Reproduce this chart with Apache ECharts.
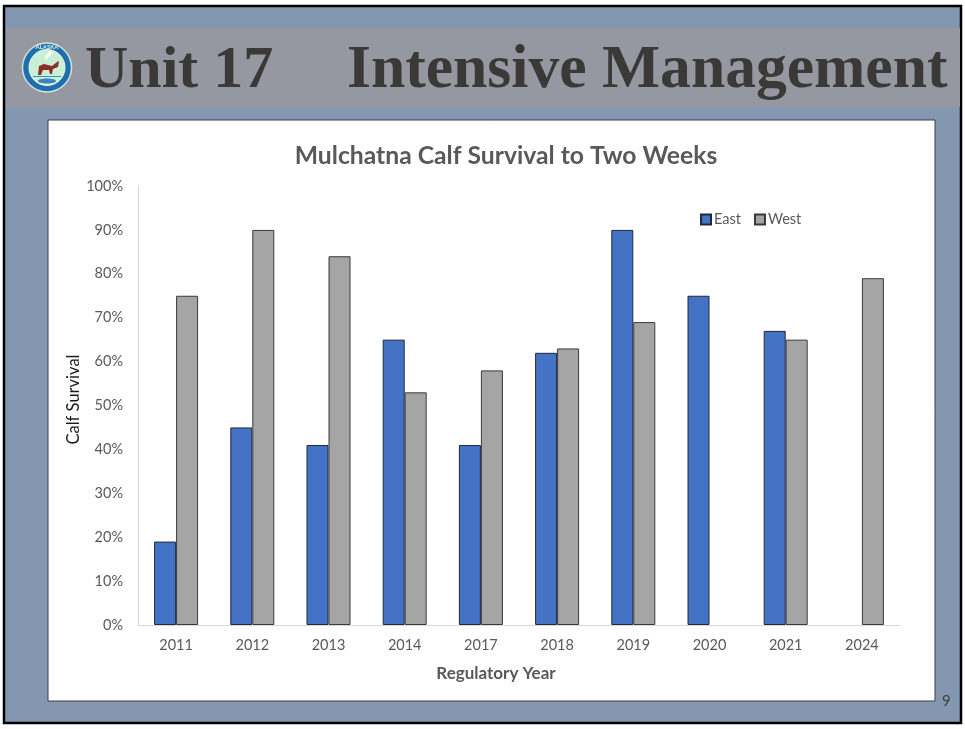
<!DOCTYPE html>
<html>
<head>
<meta charset="utf-8">
<style>html,body{margin:0;padding:0;background:#fff}#c{width:965px;height:729px}</style>
<script src="https://cdn.jsdelivr.net/npm/echarts@6/dist/echarts.min.js"></script>
</head>
<body>
<div id="c"></div>
<script>
const categories = ['2011','2012','2013','2014','2017','2018','2019','2020','2021','2024'];
const east = [19,45,41,65,41,62,90,75,67,null];
const west = [75,90,84,53,58,63,69,null,65,79];
const chartTitle = 'Mulchatna Calf Survival to Two Weeks';
const slideLeft = 'Unit 17';
const slideRight = 'Intensive Management';

const font = 'Lato, "Open Sans", sans-serif';
const ink = '#595959';
const chart = echarts.init(document.getElementById('c'), null, {renderer:'canvas'});
chart.setOption({
  animation:false,
  backgroundColor:'#fff',
  title:{text:chartTitle,left:501,top:139,textAlign:'center',
    textStyle:{fontFamily:font,fontSize:24.7,fontWeight:'bold',color:ink}},
  legend:{left:695,top:207,itemWidth:10,itemHeight:10,itemGap:13,icon:'rect',
    textStyle:{fontFamily:font,fontSize:14.5,color:ink,padding:[0,0,0,-2]},
    data:['East','West']},
  grid:{left:138,top:186,width:762,height:439,containLabel:false},
  xAxis:{type:'category',data:categories,
    name:'Regulatory Year',nameLocation:'middle',nameGap:40,
    nameTextStyle:{fontFamily:font,fontSize:17,fontWeight:'bold',color:ink,padding:[0,46,0,0]},
    axisLine:{lineStyle:{color:'#d9d9d9',width:1}},axisTick:{show:false},
    axisLabel:{fontFamily:font,fontSize:14.5,color:ink,margin:13}},
  yAxis:{type:'value',min:0,max:100,interval:10,
    name:'Calf Survival',nameLocation:'middle',nameGap:56,nameMoveOverlap:false,
    nameTextStyle:{fontFamily:font,fontSize:16.5,fontWeight:'normal',color:'#1a1a1a',padding:[0,0,0,12]},
    axisLine:{show:true,lineStyle:{color:'#d9d9d9',width:1}},axisTick:{show:false},
    splitLine:{show:false},
    axisLabel:{fontFamily:font,fontSize:14.5,color:ink,margin:15,formatter:'{value}%'}},
  series:[
    {name:'East',type:'bar',data:east,barWidth:22,barGap:'0%',
     itemStyle:{color:'#4472c4',borderColor:'#1f2a3a',borderWidth:1}},
    {name:'West',type:'bar',data:west,barWidth:22,
     itemStyle:{color:'#a5a5a5',borderColor:'#3a3a3a',borderWidth:1}}
  ],
  graphic:{elements:[
    {type:'rect',z:-10,silent:true,shape:{x:4,y:6,width:957,height:717},
     style:{fill:'#8497b0',stroke:'#000',lineWidth:2.5}},
    {type:'rect',z:-9,silent:true,shape:{x:6,y:28,width:954,height:79},style:{fill:'#9698a1'}},
    {type:'rect',z:-8,silent:true,shape:{x:48,y:120,width:887,height:581},
     style:{fill:'#fff',stroke:'#3b3f45',lineWidth:1}},
    {type:'text',z:-7,silent:true,style:{x:85,y:71,text:slideLeft,verticalAlign:'middle',
      font:'bold 60px "Liberation Serif", serif',fill:'#3b3838'}},
    {type:'text',z:-7,silent:true,style:{x:347,y:71,text:slideRight,verticalAlign:'middle',
      font:'bold 61.6px "Liberation Serif", serif',fill:'#3b3838'}},
    {type:'text',z:-7,silent:true,style:{x:942,y:694,text:'9',font:'15px '+font,fill:'#404040'}},
    {type:'circle',silent:true,shape:{cx:47,cy:67.5,r:24.5},style:{fill:'#1f6fae',stroke:'#cfe3d8',lineWidth:1.5}},
    {type:'circle',silent:true,shape:{cx:47,cy:67.5,r:18},style:{fill:'#c9efd5',stroke:'#e8f4ea',lineWidth:1}},
    {type:'rect',silent:true,shape:{x:33,y:76,width:28,height:1},style:{fill:'#3f8fc4'}},
    {type:'ellipse',silent:true,shape:{cx:47,cy:81,rx:9,ry:2.5},style:{fill:'#3f7fbf'}},
    {type:'polygon',silent:true,shape:{points:[[49,51],[53,52],[46,60],[45,58]]},style:{fill:'#fff'}},
    {type:'polygon',silent:true,shape:{points:[[39,66],[44,64],[52,66],[57,62],[59,61],[58,67],[53,69],[52,74],[50,74],[49,70],[43,70],[41,75],[38,75]]},style:{fill:'#8c2f2a'}},
    {type:'text',silent:true,style:{x:47,y:47,text:'ALASKA',align:'center',verticalAlign:'middle',font:'bold 6px '+font,fill:'#dfeee6'}}
  ]}
});
</script>
</body>
</html>
